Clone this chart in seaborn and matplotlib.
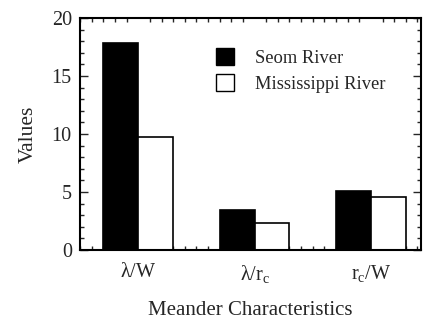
import matplotlib
matplotlib.use("Agg")
import matplotlib.pyplot as plt
import seaborn as sns
import pandas as pd
import numpy as np
from matplotlib.patches import Patch
from matplotlib.ticker import MultipleLocator

categories = [r"$\mathregular{\lambda/W}$", r"$\mathregular{\lambda/r_c}$", r"$\mathregular{r_c/W}$"]
series = ["Seom River", "Mississippi River"]
seom_values = [17.8, 3.45, 5.1]
miss_values = [9.75, 2.3, 4.6]
y_ticks = [0, 5, 10, 15, 20]

sns.set_theme(style="ticks")
plt.rcParams["font.family"] = ["Liberation Serif", "DejaVu Serif"]
plt.rcParams["mathtext.fontset"] = "custom"
plt.rcParams["mathtext.rm"] = "Liberation Serif"
plt.rcParams["mathtext.it"] = "Liberation Serif:italic"

df = pd.DataFrame({
    "cat": categories * 2,
    "series": [series[0]] * 3 + [series[1]] * 3,
    "val": seom_values + miss_values,
})

fig = plt.figure(figsize=(4.26, 3.26), dpi=100)
ax = fig.add_axes([0.188, 0.233, 0.8, 0.712])
sns.barplot(data=df, x="cat", y="val", hue="series", order=categories,
            hue_order=series, palette=["black", "white"], width=0.6,
            edgecolor="black", linewidth=1.2, saturation=1, ax=ax, legend=False)

ax.set_xlim(-0.5, 2.43)
ax.set_ylim(0, 20)
ax.set_yticks(y_ticks)
ax.yaxis.set_minor_locator(MultipleLocator(1))
ax.xaxis.set_minor_locator(MultipleLocator(0.1))
ax.tick_params(which="both", direction="in", top=True, right=True, width=1.0)
ax.tick_params(which="major", length=6, labelsize=14.5, pad=6)
ax.tick_params(which="minor", length=3)
ax.tick_params(axis="x", which="major", length=0, pad=9)
for s in ax.spines.values():
    s.set_linewidth(1.5)
    s.set_color("black")

ax.set_xlabel("Meander Characteristics", fontsize=15, labelpad=12)
ax.set_ylabel("Values", fontsize=15.5, labelpad=10)

handles = [Patch(facecolor="black", edgecolor="black", label=series[0]),
           Patch(facecolor="white", edgecolor="black", label=series[1])]
ax.legend(handles=handles, loc="upper left", bbox_to_anchor=(0.35, 0.94),
          frameon=False, fontsize=13.3, handlelength=1.0, handleheight=1.0,
          handletextpad=1.1, labelspacing=0.4)

fig.savefig("out.png", dpi=100)
